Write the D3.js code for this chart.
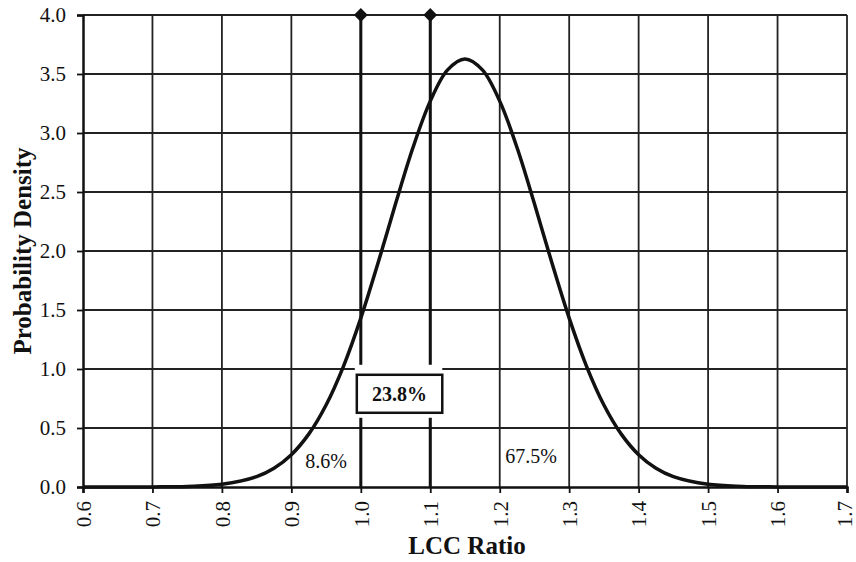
<!DOCTYPE html>
<html>
<head>
<meta charset="utf-8">
<script src="https://cdn.jsdelivr.net/npm/d3@7"></script>
<style>
  body { margin: 0; background: #fff; }
  text { font-family: "Liberation Serif", "DejaVu Serif", serif; fill: #111; }
</style>
</head>
<body>
<div id="chart"></div>
<script>
// Data
const ratio = [0.60, 0.65, 0.70, 0.75, 0.80, 0.85, 0.875, 0.90, 0.925, 0.95, 0.975, 1.00, 1.025, 1.05, 1.075, 1.10, 1.125, 1.15,
               1.175, 1.20, 1.225, 1.25, 1.275, 1.30, 1.325, 1.35, 1.375, 1.40, 1.425, 1.45, 1.50, 1.55, 1.60, 1.65, 1.70];
const density = [0.000, 0.000, 0.001, 0.005, 0.023, 0.088, 0.159, 0.274, 0.448, 0.695, 1.023, 1.431, 1.902, 2.400, 2.875, 3.270, 3.535, 3.627,
                 3.535, 3.270, 2.875, 2.400, 1.902, 1.431, 1.023, 0.695, 0.448, 0.274, 0.159, 0.088, 0.023, 0.005, 0.001, 0.000, 0.000];
const limits = [1.0, 1.1];
const xTicks = [0.6, 0.7, 0.8, 0.9, 1.0, 1.1, 1.2, 1.3, 1.4, 1.5, 1.6, 1.7];
const yTicks = [0, 0.5, 1.0, 1.5, 2.0, 2.5, 3.0, 3.5, 4.0];
const areaLabels = [
  { x: 0.95, y: 0.16, text: "8.6%" },
  { x: 1.245, y: 0.20, text: "67.5%" }
];
const boxLabel = { x: 1.05, y: 0.79, text: "23.8%" };

// 1. SETUP
const width = 856;
const height = 562;
const margin = { top: 15, right: 9, bottom: 75, left: 83 };

const svg = d3.select("#chart").append("svg")
    .attr("width", width).attr("height", height);

const x = d3.scaleLinear().domain([0.6, 1.7]).range([margin.left, width - margin.right]);
const y = d3.scaleLinear().domain([0, 4]).range([height - margin.bottom, margin.top]);

// 2. GRID
svg.append("g").attr("stroke", "#222").attr("stroke-width", 1.8)
    .selectAll("line").data(yTicks.slice(1)).join("line")
    .attr("x1", x(0.6)).attr("x2", x(1.7))
    .attr("y1", d => y(d)).attr("y2", d => y(d));
svg.append("g").attr("stroke", "#222").attr("stroke-width", 1.8)
    .selectAll("line").data(xTicks.slice(1)).join("line")
    .attr("x1", d => x(d)).attr("x2", d => x(d))
    .attr("y1", y(0)).attr("y2", y(4));

// 3. AXES
const xAxis = svg.append("g")
    .attr("transform", `translate(0,${y(0)})`)
    .call(d3.axisBottom(x).tickValues(xTicks).tickFormat(d3.format(".1f")).tickSize(6));
xAxis.select(".domain").attr("stroke", "#111").attr("stroke-width", 2.5);
xAxis.selectAll(".tick line").attr("stroke", "#111").attr("stroke-width", 1.8);
xAxis.selectAll(".tick text")
    .attr("transform", "rotate(-90)")
    .attr("text-anchor", "end").attr("x", -14)
    .attr("y", (d, i) => i === xTicks.length - 1 ? -3 : 0)  // keep the last label inside the page
    .attr("dy", "0.35em")
    .style("font-size", "21px").style("font-family", "Liberation Serif");

const yAxis = svg.append("g")
    .attr("transform", `translate(${x(0.6)},0)`)
    .call(d3.axisLeft(y).tickValues(yTicks).tickFormat(d3.format(".1f")).tickSize(6).tickPadding(11));
yAxis.select(".domain").attr("stroke", "#111").attr("stroke-width", 2.5);
yAxis.selectAll(".tick line").attr("stroke", "#111").attr("stroke-width", 1.8);
yAxis.selectAll(".tick text").style("font-size", "21px").style("font-family", "Liberation Serif");

// 4. LIMIT LINES
svg.append("g").attr("stroke", "#111").attr("stroke-width", 3)
    .selectAll("line").data(limits).join("line")
    .attr("x1", d => x(d)).attr("x2", d => x(d))
    .attr("y1", y(0)).attr("y2", y(4));
svg.append("g").selectAll("path").data(limits).join("path")
    .attr("d", d3.symbol(d3.symbolSquare, 95))
    .attr("transform", d => `translate(${x(d)},${y(4)}) rotate(45)`)
    .attr("fill", "#111");

// 5. DENSITY CURVE
const pts = ratio.map((r, i) => [r, density[i]]);
svg.append("path").datum(pts)
    .attr("fill", "none").attr("stroke", "#111").attr("stroke-width", 3.5)
    .attr("d", d3.line().x(d => x(d[0])).y(d => y(d[1])).curve(d3.curveCatmullRom));

// 6. LABELS
svg.append("g").selectAll("text").data(areaLabels).join("text")
    .attr("x", d => x(d.x)).attr("y", d => y(d.y))
    .attr("text-anchor", "middle").style("font-size", "20px")
    .text(d => d.text);

const bx0 = x(limits[0]) - 4, bx1 = x(limits[1]) + 12;
const by = y(boxLabel.y);
svg.append("rect")
    .attr("x", bx0 - 2).attr("y", by - 29).attr("width", bx1 - bx0 + 2).attr("height", 53)
    .attr("fill", "#fff");
svg.append("rect")
    .attr("x", bx0).attr("y", by - 19).attr("width", bx1 - bx0).attr("height", 38)
    .attr("fill", "#fff").attr("stroke", "#111").attr("stroke-width", 2.5);
svg.append("text")
    .attr("x", (bx0 + bx1) / 2).attr("y", by + 7)
    .attr("text-anchor", "middle").style("font-size", "20px").style("font-weight", "bold")
    .text(boxLabel.text);

// axis titles
svg.append("text")
    .attr("transform", `translate(22,${(y(0) + y(4)) / 2}) rotate(-90)`)
    .attr("text-anchor", "middle").attr("dy", "0.35em")
    .style("font-size", "25px").style("font-weight", "bold")
    .text("Probability Density");
svg.append("text")
    .attr("x", (x(0.6) + x(1.7)) / 2 + 2).attr("y", 554)
    .attr("text-anchor", "middle")
    .style("font-size", "25px").style("font-weight", "bold")
    .text("LCC Ratio");
</script>
</body>
</html>
